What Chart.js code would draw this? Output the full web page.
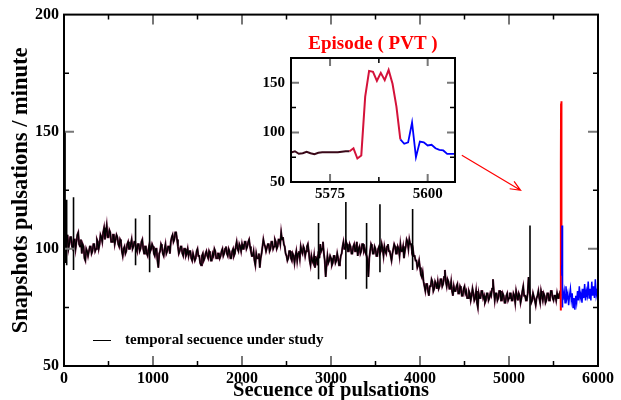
<!DOCTYPE html>
<html lang="en">
<head>
    <meta charset="UTF-8">
    <title>Secuence of pulsations</title>
    <script src="https://cdn.jsdelivr.net/npm/chart.js"></script>
    <style>
        body {
            margin: 0;
            background: #fff;
            font-family: "Liberation Serif", serif;
        }

        .wrap {
            position: relative;
            width: 621px;
            height: 400px;
        }

        #main-chart {
            position: absolute;
            left: 0;
            top: 0;
        }

        #inset-chart {
            position: absolute;
            left: 240px;
            top: 28px;
        }

        .legend {
            position: absolute;
            left: 93px;
            top: 330px;
            font-weight: bold;
            font-size: 15px;
            line-height: 18px;
            color: #000;
            white-space: nowrap;
        }

        .legend .swatch {
            display: inline-block;
            width: 18px;
            height: 0;
            border-top: 1.5px solid #000;
            vertical-align: middle;
            margin-right: 14px;
        }
    </style>
</head>
<body>

    <div class="wrap">
        <canvas id="main-chart" width="621" height="400"></canvas>
        <canvas id="inset-chart" width="225" height="180"></canvas>
        <div class="legend"><span class="swatch"></span>temporal secuence under study</div>
    </div>

    <script>
        // main series, one value every 10 pulsations from 0 to 5580 (one row = 200 pulsations)
        const mainStep = 10;
        const mainValues = [
            104, 101, 99, 103, 106, 100, 102, 105, 105, 101, 100, 104, 104, 100, 103, 106, 107, 102, 101, 104,
            98, 102, 101, 96, 95, 100, 99, 97, 97, 101, 101, 98, 99, 102, 102, 99, 100, 104, 103, 100,
            102, 106, 105, 103, 107, 109, 104, 107, 110, 105, 105, 108, 107, 103, 103, 106, 106, 102, 104, 106,
            105, 102, 101, 104, 103, 99, 97, 100, 101, 98, 99, 102, 103, 100, 100, 102, 104, 100, 101, 103,
            103, 100, 99, 102, 102, 99, 100, 103, 104, 100, 98, 101, 101, 98, 97, 100, 102, 99, 100, 102,
            101, 98, 97, 100, 100, 95, 92, 98, 99, 102, 101, 98, 97, 100, 102, 98, 99, 101, 101, 98,
            103, 105, 106, 103, 104, 107, 107, 104, 101, 98, 99, 101, 101, 98, 97, 100, 100, 97, 98, 100,
            97, 99, 99, 96, 95, 98, 98, 95, 96, 99, 100, 97, 97, 94, 93, 97, 98, 95, 96, 98,
            99, 97, 96, 99, 98, 95, 95, 98, 97, 100, 99, 96, 96, 98, 98, 96, 97, 99, 100, 97,
            98, 100, 101, 98, 97, 100, 99, 96, 96, 99, 100, 97, 98, 101, 103, 100, 99, 102, 101, 99,
            102, 100, 100, 103, 103, 100, 101, 103, 104, 101, 99, 97, 97, 99, 95, 93, 98, 96, 96, 98,
            92, 96, 98, 101, 104, 102, 101, 99, 99, 102, 102, 99, 100, 103, 103, 100, 101, 104, 103, 100,
            101, 104, 104, 102, 107, 104, 105, 102, 101, 98, 97, 95, 96, 99, 99, 96, 95, 98, 97, 94,
            97, 99, 95, 98, 99, 96, 101, 99, 98, 101, 100, 97, 99, 101, 102, 99, 95, 93, 97, 95,
            94, 97, 92, 95, 96, 93, 99, 96, 102, 99, 100, 103, 98, 95, 88, 93, 97, 94, 95, 97,
            96, 93, 94, 97, 97, 94, 95, 98, 96, 93, 94, 97, 98, 101, 103, 100, 100, 103, 102, 99,
            99, 102, 101, 98, 98, 101, 102, 99, 100, 103, 97, 100, 101, 98, 99, 102, 102, 99, 100, 98,
            97, 95, 88, 96, 99, 102, 101, 98, 98, 101, 100, 97, 97, 100, 101, 98, 99, 102, 100, 97,
            101, 99, 98, 101, 102, 99, 99, 97, 95, 98, 100, 102, 101, 98, 98, 101, 100, 97, 102, 99,
            99, 101, 96, 99, 101, 104, 103, 100, 104, 102, 102, 99, 100, 97, 97, 95, 95, 92, 93, 95,
            92, 89, 88, 90, 86, 84, 82, 85, 85, 82, 80, 84, 84, 87, 86, 82, 83, 86, 85, 83,
            86, 83, 84, 87, 87, 84, 85, 88, 91, 86, 84, 87, 86, 83, 83, 86, 82, 80, 84, 82,
            82, 84, 85, 81, 81, 84, 83, 80, 80, 83, 84, 81, 82, 79, 79, 82, 81, 78, 80, 83,
            81, 78, 79, 82, 77, 75, 81, 79, 79, 82, 82, 79, 80, 77, 78, 81, 81, 78, 79, 81,
            80, 83, 87, 82, 78, 81, 81, 78, 79, 82, 82, 78, 78, 81, 80, 77, 77, 80, 81, 78,
            79, 81, 81, 78, 78, 81, 80, 77, 82, 80, 78, 81, 80, 77, 79, 82, 84, 80, 80, 78,
            78, 81, 88, 82, 80, 77, 78, 81, 81, 78, 76, 79, 80, 82, 79, 77, 82, 80, 78, 81,
            80, 77, 78, 81, 81, 78, 79, 82, 82, 79, 78, 80, 80, 78, 81, 79, 79, 81, 80
        ];

        // isolated single-beat spikes of the main series
        const spikeX = [12, 30, 107, 804, 962, 2860, 3167, 3400, 3550, 3917, 5236];
        const spikeHigh = [150, 121, 122, 113, 114.5, 111, 120, 111, 119, 117, 110];
        const spikeLow = [94, 93, 91, 93, 90, 87, 87, 83, 90, 91, 68];

        // episode window (inset), one value per pulsation
        const preX = [5565, 5566, 5567, 5568, 5569, 5570, 5571, 5572, 5573, 5574, 5575, 5576, 5577, 5578, 5579, 5580];
        const preY = [79.8, 81, 78.4, 79, 80.4, 79, 78, 79.5, 80, 80, 80, 80, 80, 80.5, 81, 81];
        const pvtX = [5580, 5581, 5582, 5583, 5584, 5585, 5586, 5587, 5588, 5589, 5590, 5591, 5592, 5593];
        const pvtY = [81, 84, 73.7, 76.8, 136, 162, 161, 152, 160, 152.7, 163, 149, 126, 93];

        // after the episode (blue)
        const postX = [5593, 5594, 5595, 5596, 5597, 5598, 5599, 5600, 5601, 5602, 5603, 5604, 5605, 5606, 5607,
            5620, 5630, 5640, 5650, 5660, 5670, 5680, 5690, 5700, 5710, 5720, 5730, 5740, 5750, 5760,
            5770, 5780, 5790, 5800, 5810, 5820, 5830, 5840, 5850, 5860, 5870, 5880, 5890, 5900, 5910,
            5920, 5930, 5940, 5950, 5960, 5970, 5980, 5990, 6000];
        const postY = [93, 88.5, 90, 110, 75, 90.8, 90, 86.8, 87.5, 84, 82.4, 81.8, 78.4, 78.4, 78.4,
            82, 77, 84, 79, 81, 76, 80, 83, 78, 81, 75, 79, 74, 80, 77,
            82, 78, 84, 79, 81, 77, 83, 79, 85, 78, 82, 80, 86, 79, 83,
            78, 86, 80, 84, 79, 87, 80, 82, 79];

        // red arrow pointing from the inset to the episode (data coords)
        const arrowFrom = [4470, 140];
        const arrowTo = [5130, 125];

        const serif = '"Liberation Serif", "Times New Roman", serif';
        Chart.defaults.color = '#000';
        Chart.defaults.font.family = serif;
        Chart.defaults.font.weight = 'bold';

        function pts(xs, ys) {
            return ys.map((y, i) => ({ x: xs[i], y: y }));
        }
        const plain = v => String(v);

        const mainPts = mainValues.map((v, i) => ({ x: i * mainStep, y: v }));
        const spikePts = [];
        spikeX.forEach((x, i) => {
            spikePts.push({ x: x, y: spikeLow[i] }, { x: x, y: spikeHigh[i] }, { x: x, y: null });
        });

        // xmgrace-like frame with inward ticks
        function frameTicks(xMajor, xMinor, yMajor, yMinor, majLen, minLen) {
            return {
                id: 'frameTicks',
                afterDraw(chart) {
                    const { ctx, chartArea: a, scales } = chart;
                    const sx = scales.x, sy = scales.y;
                    ctx.save();
                    const tick = (v, len, col, horiz) => {
                        ctx.strokeStyle = col;
                        ctx.beginPath();
                        if (horiz) {
                            const p = sx.getPixelForValue(v);
                            if (p < a.left + 1 || p > a.right - 1) return;
                            ctx.moveTo(p, a.bottom); ctx.lineTo(p, a.bottom - len);
                            ctx.moveTo(p, a.top); ctx.lineTo(p, a.top + len);
                        } else {
                            const p = sy.getPixelForValue(v);
                            if (p < a.top + 1 || p > a.bottom - 1) return;
                            ctx.moveTo(a.left, p); ctx.lineTo(a.left + len, p);
                            ctx.moveTo(a.right, p); ctx.lineTo(a.right - len, p);
                        }
                        ctx.stroke();
                    };
                    ctx.lineWidth = 2;
                    xMajor.forEach(v => tick(v, majLen, '#777', true));
                    yMajor.forEach(v => tick(v, majLen, '#777', false));
                    ctx.lineWidth = 1.5;
                    xMinor.forEach(v => tick(v, minLen, '#000', true));
                    yMinor.forEach(v => tick(v, minLen, '#000', false));
                    ctx.lineWidth = 2;
                    ctx.strokeStyle = '#000';
                    ctx.strokeRect(a.left, a.top, a.right - a.left, a.bottom - a.top);
                    ctx.restore();
                }
            };
        }

        const arrowPlugin = {
            id: 'arrow',
            afterDatasetsDraw(chart) {
                const { ctx, scales } = chart;
                const x1 = scales.x.getPixelForValue(arrowFrom[0]), y1 = scales.y.getPixelForValue(arrowFrom[1]);
                const x2 = scales.x.getPixelForValue(arrowTo[0]), y2 = scales.y.getPixelForValue(arrowTo[1]);
                const ang = Math.atan2(y2 - y1, x2 - x1);
                ctx.save();
                ctx.strokeStyle = '#ff0000';
                ctx.lineWidth = 1.2;
                ctx.beginPath();
                ctx.moveTo(x1, y1); ctx.lineTo(x2, y2);
                ctx.moveTo(x2 - 11 * Math.cos(ang - 0.4), y2 - 11 * Math.sin(ang - 0.4));
                ctx.lineTo(x2, y2);
                ctx.lineTo(x2 - 11 * Math.cos(ang + 0.4), y2 - 11 * Math.sin(ang + 0.4));
                ctx.stroke();
                ctx.restore();
            }
        };

        const lineDefaults = { pointRadius: 0, fill: false, tension: 0 };

        new Chart(document.getElementById('main-chart'), {
            type: 'line',
            data: {
                datasets: [
                    { ...lineDefaults, data: pts(postX, postY), borderColor: '#0000ff', borderWidth: 1.5 },
                    { ...lineDefaults, data: pts(pvtX, pvtY), borderColor: '#ff0000', borderWidth: 2 },
                    { ...lineDefaults, data: spikePts, borderColor: '#000', borderWidth: 1.6, spanGaps: false },
                    { ...lineDefaults, data: mainPts, borderColor: '#000', borderWidth: 1.2 },
                    { ...lineDefaults, data: mainPts, borderColor: '#6a1840', borderWidth: 2 }
                ]
            },
            options: {
                responsive: false,
                animation: false,
                layout: { padding: { top: 14, right: 23, left: 0, bottom: 0 } },
                plugins: { legend: { display: false }, tooltip: { enabled: false } },
                scales: {
                    x: {
                        type: 'linear', min: 0, max: 6000,
                        grid: { display: false, drawTicks: false }, border: { display: false },
                        ticks: { stepSize: 1000, padding: 3, maxRotation: 0, callback: plain, font: { size: 16, weight: 'bold' } },
                        title: { display: true, text: 'Secuence of pulsations', padding: { top: 0, bottom: -1 }, font: { size: 20.5, weight: 'bold', lineHeight: 1 } },
                        afterFit(s) { s.height = 34; }
                    },
                    y: {
                        type: 'linear', min: 50, max: 200,
                        grid: { display: false, drawTicks: false }, border: { display: false },
                        ticks: { stepSize: 50, padding: 5, callback: plain, font: { size: 16, weight: 'bold' } },
                        title: { display: true, text: 'Snapshots pulsations / minute', padding: { top: 10, bottom: 0 }, font: { size: 22.5, weight: 'bold', lineHeight: 1 } },
                        afterFit(s) { s.width = 64; }
                    }
                }
            },
            plugins: [frameTicks([0, 1000, 2000, 3000, 4000, 5000, 6000], [500, 1500, 2500, 3500, 4500, 5500],
                [50, 100, 150, 200], [75, 125, 175], 10, 5), arrowPlugin]
        });

        new Chart(document.getElementById('inset-chart'), {
            type: 'line',
            data: {
                datasets: [
                    { ...lineDefaults, data: pts(pvtX, pvtY), borderColor: '#d4123a', borderWidth: 2 },
                    { ...lineDefaults, data: pts(postX, postY), borderColor: '#0000ff', borderWidth: 1.8 },
                    { ...lineDefaults, data: pts(preX, preY), borderColor: '#3a0818', borderWidth: 2 }
                ]
            },
            options: {
                responsive: false,
                animation: false,
                layout: { padding: { top: 0, right: 10, left: 0, bottom: 0 } },
                plugins: {
                    legend: { display: false }, tooltip: { enabled: false },
                    title: {
                        display: true, text: 'Episode ( PVT )', color: '#ff0000', fullSize: false,
                        padding: { top: 7, bottom: 4 }, font: { size: 19, weight: 'bold', lineHeight: 1 }
                    }
                },
                scales: {
                    x: {
                        type: 'linear', min: 5565, max: 5607,
                        grid: { display: false, drawTicks: false }, border: { display: false },
                        ticks: { stepSize: 25, includeBounds: false, padding: 3, maxRotation: 0, callback: plain, font: { size: 15, weight: 'bold' } },
                        afterFit(s) { s.height = 26; }
                    },
                    y: {
                        type: 'linear', min: 50, max: 175,
                        grid: { display: false, drawTicks: false }, border: { display: false },
                        ticks: { stepSize: 50, includeBounds: false, padding: 6, callback: plain, font: { size: 15, weight: 'bold' } },
                        afterFit(s) { s.width = 51; }
                    }
                }
            },
            plugins: [frameTicks([5575, 5600], [5587.5], [100, 150], [75, 125], 8, 5)]
        });
    </script>

</body>
</html>
